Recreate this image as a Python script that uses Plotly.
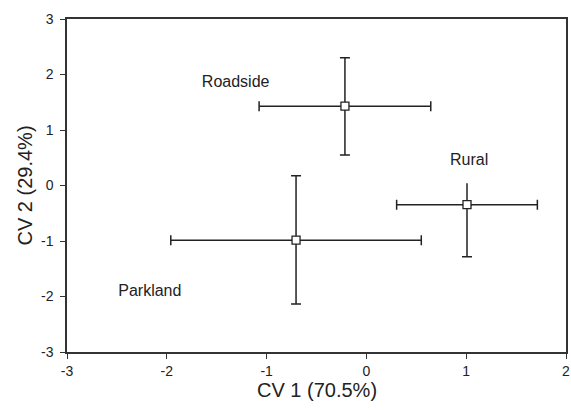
import plotly.graph_objects as go

groups = ["Roadside", "Rural", "Parkland"]
cv1 = [-0.215, 1.008, -0.705]
cv2 = [1.43, -0.345, -0.985]
cv1_err = [0.86, 0.705, 1.255]
cv2_err_plus = [0.87, 0.0, 1.16]
cv2_err_minus = [0.88, 0.94, 1.15]
# Rural upper arm drawn without cap
rural_top = 0.04

label_x = [-1.31, 1.03, -2.17]
label_y = [1.84, 0.45, -1.92]

xticks = [-3, -2, -1, 0, 1, 2]
yticks = [-3, -2, -1, 0, 1, 2, 3]
xtick_text = ["-3", "-2", "-1", "0", "1", "2"]
ytick_text = ["-3", "-2", "-1", "0", "1", "2", "3"]

x_title = "CV 1 (70.5%)"
y_title = "CV 2 (29.4%)"

font = "Liberation Sans, Arial, sans-serif"

fig = go.Figure()

fig.add_trace(go.Scatter(
    x=[cv1[1], cv1[1]], y=[cv2[1], rural_top], mode="lines",
    line=dict(color="#222222", width=1.5), showlegend=False, hoverinfo="skip"))

fig.add_trace(go.Scatter(
    x=cv1, y=cv2, mode="markers",
    marker=dict(symbol="square", size=8, color="white",
                line=dict(color="#222222", width=1.3)),
    error_x=dict(type="data", array=cv1_err, color="#222222", thickness=1.5, width=5),
    error_y=dict(type="data", symmetric=False, array=cv2_err_plus, arrayminus=cv2_err_minus,
                 color="#222222", thickness=1.5, width=5),
    showlegend=False))

fig.add_trace(go.Scatter(
    x=label_x, y=label_y, mode="text", text=groups,
    textfont=dict(family=font, size=16, color="#222222"),
    showlegend=False, hoverinfo="skip"))

axis_common = dict(
    showgrid=False, zeroline=False, showline=True, mirror=True,
    linecolor="#333333", linewidth=1.5, ticks="outside", ticklen=5,
    tickwidth=1, tickcolor="#333333", automargin=False,
    tickfont=dict(family=font, size=14, color="#222222"),
)

fig.update_layout(
    width=571, height=410,
    margin=dict(l=67, r=5, t=19, b=58),
    paper_bgcolor="white", plot_bgcolor="white",
    xaxis=dict(range=[-3, 2], tickvals=xticks, ticktext=xtick_text, **axis_common),
    yaxis=dict(range=[-3, 3], tickvals=yticks, ticktext=ytick_text,
               ticklabelstandoff=4, **axis_common),
    annotations=[
        dict(text=x_title, xref="paper", yref="paper", x=0.5, y=0, yshift=-38,
             xanchor="center", yanchor="middle", showarrow=False,
             font=dict(family=font, size=20, color="#222222")),
        dict(text=y_title, xref="paper", yref="paper", x=0, y=0.5, xshift=-43,
             xanchor="center", yanchor="middle", textangle=-90, showarrow=False,
             font=dict(family=font, size=20, color="#222222")),
    ],
)

fig.write_html("out.html", config={"displayModeBar": False},
               post_script="document.body.style.margin='0';")
